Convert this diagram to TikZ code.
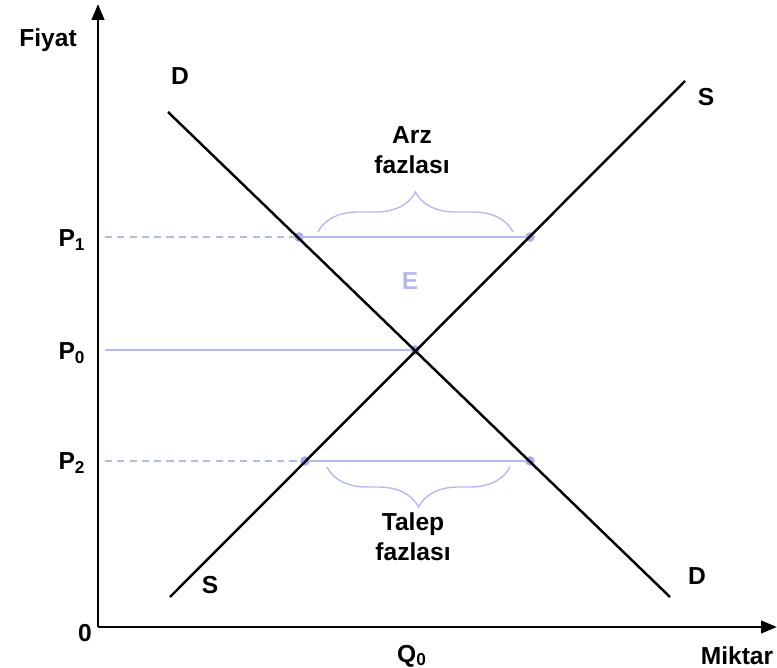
\documentclass[tikz,border=0pt]{standalone}
\usepackage{fontspec}
\setmainfont{Liberation Sans}
\usetikzlibrary{arrows.meta,decorations.pathreplacing}

\definecolor{guideblue}{RGB}{184,184,240}
\definecolor{dotblue}{RGB}{172,172,236}

\begin{document}
\begin{tikzpicture}[
    x=0.02cm, y=-0.02cm,
    axis/.style={line width=1.6pt, -{Triangle[length=9pt, width=7pt]}},
    curve/.style={line width=1.4pt},
    guide/.style={draw=guideblue, line width=0.8pt},
    gap/.style={dash pattern=on 4pt off 3pt},
    lbl/.style={font=\bfseries\fontsize{14}{17}\selectfont, inner sep=0pt},
    dot/.style={circle, fill=dotblue, inner sep=0pt, minimum size=5.5pt},
    fazla/.style={guide, decorate, decoration={brace, amplitude=0.8cm}}
]
    \useasboundingbox (0,0) rectangle (777,668);

    % Axes
    \coordinate (O) at (98,627);
    \coordinate (ytop) at (98,4);
    \coordinate (xend) at (777,627);
    \draw[axis] (O) -- (ytop);
    \draw[axis] (O) -- (xend);
    \node[lbl] (fiyat) at (48,40) {Fiyat};
    \node[lbl] (miktar) at (737,656) {Miktar};
    \node[lbl] (zero) at (85,633) {0};
    \node[lbl] (q0) at (412,656) {Q\textsubscript{0}};

    % Price levels
    \node[lbl] (p1) at (72,240) {P\textsubscript{1}};
    \node[lbl] (p0) at (72,353) {P\textsubscript{0}};
    \node[lbl] (p2) at (72,463) {P\textsubscript{2}};
    \coordinate (a1) at (105,237);
    \coordinate (a0) at (105,350);
    \coordinate (a2) at (105,461);

    % Intersection points
    \node[dot] (d1) at (299,237) {};
    \node[dot] (s1) at (530,237) {};
    \node[dot] (eq) at (415,350) {};
    \node[dot] (s2) at (305,461) {};
    \node[dot] (d2) at (530,461) {};

    \draw[guide, gap] (a1) -- (d1);
    \draw[guide] (d1) -- (s1);
    \draw[guide] (a0) -- (eq);
    \draw[guide, gap] (a2) -- (s2);
    \draw[guide] (s2) -- (d2);

    % Demand and supply
    \coordinate (dtop) at (168,112);
    \coordinate (dbot) at (670,597);
    \coordinate (sbot) at (170,597);
    \coordinate (stop) at (685,81);
    \draw[curve] (dtop) -- (dbot);
    \draw[curve] (sbot) -- (stop);
    \node[lbl] (dlabtop) at (180,76) {D};
    \node[lbl] (dlabbot) at (697,576) {D};
    \node[lbl] (slabtop) at (706,97) {S};
    \node[lbl] (slabbot) at (210,585) {S};
    \node[lbl, text=guideblue] (elab) at (410,281) {E};

    % Surplus braces
    \coordinate (b1l) at (318,232);
    \coordinate (b1r) at (513,232);
    \coordinate (b2l) at (510,467);
    \coordinate (b2r) at (327,467);
    \draw[fazla] (b1l) -- (b1r);
    \draw[fazla] (b2l) -- (b2r);
    \node[lbl, align=center] (arz) at (412,150) {Arz\\fazlası};
    \node[lbl, align=center] (talep) at (413,537) {Talep\\fazlası};
\end{tikzpicture}
\end{document}
